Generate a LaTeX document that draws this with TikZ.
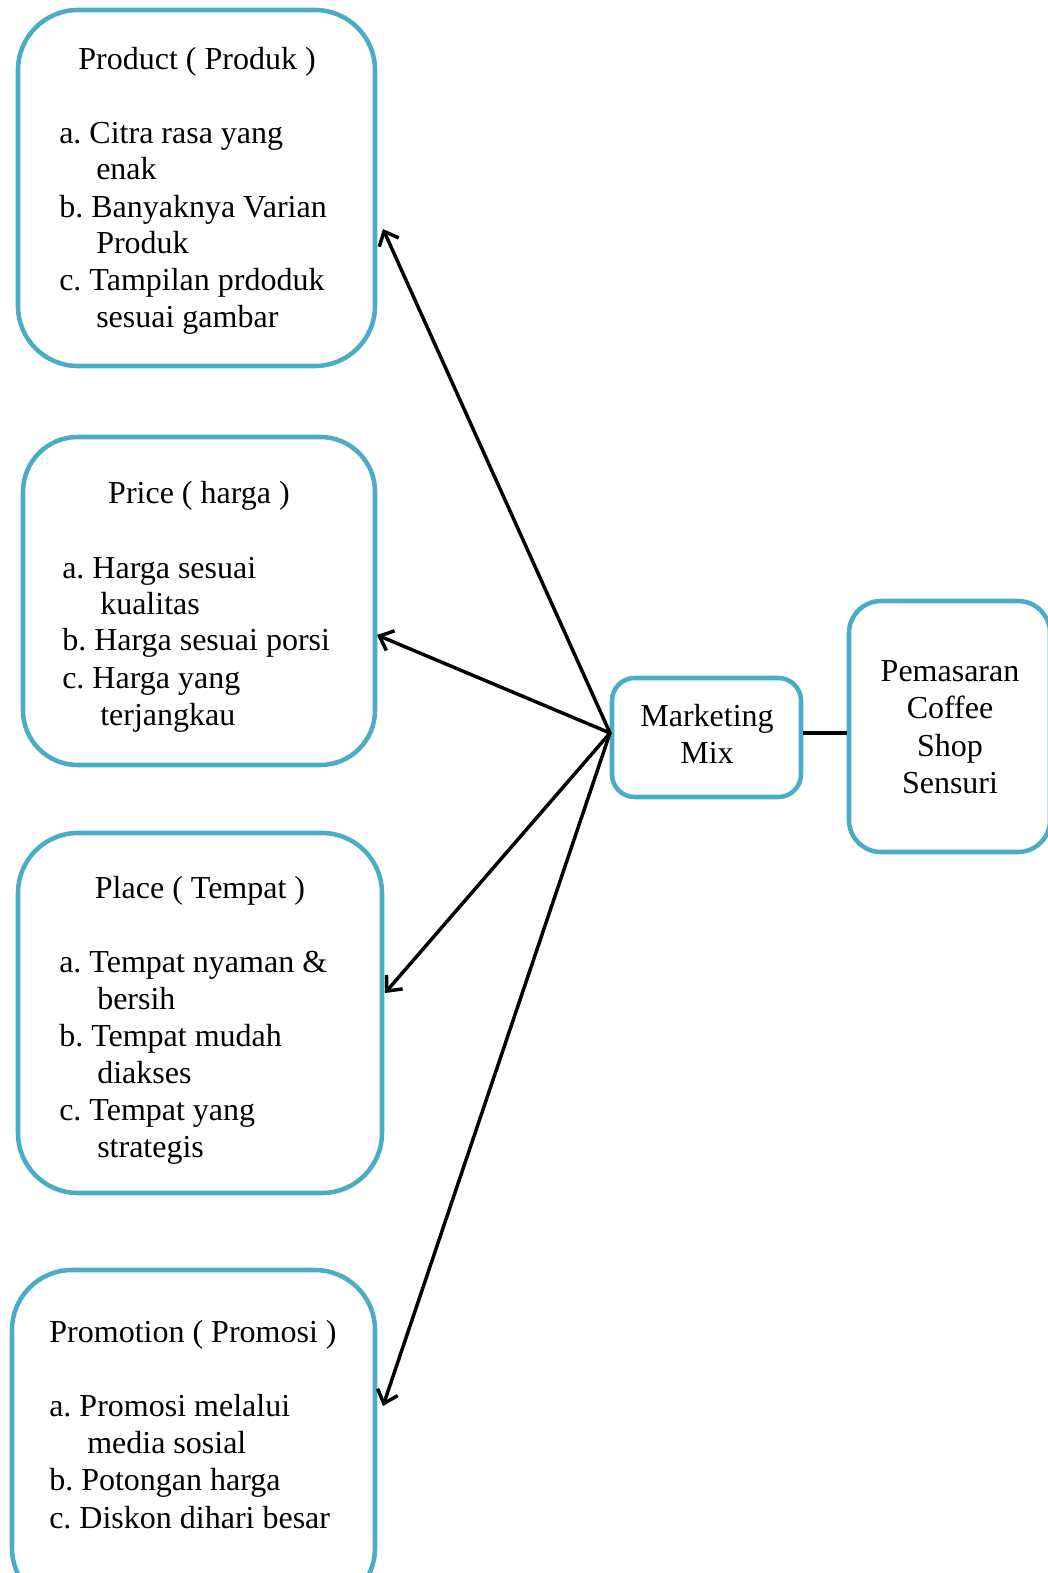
\documentclass[tikz,border=0pt]{standalone}
\usepackage{fontspec}
\setmainfont{Liberation Serif}
\usetikzlibrary{arrows.meta}
\definecolor{boxblue}{HTML}{4BACC6}
\frenchspacing
\begin{document}
\begin{tikzpicture}[x=0.75pt,y=-0.75pt,
  box/.style={draw=boxblue, line width=3.4pt, rectangle, inner sep=0pt, fill=white},
  txt/.style={inner sep=0pt, anchor=base west, font=\fontsize{24}{27.75}\selectfont},
  ttl/.style={inner sep=0pt, anchor=base, font=\fontsize{24}{27.75}\selectfont},
  arr/.style={line width=2.6pt, line cap=round, line join=round, -{Straight Barb[length=9pt, width=16pt, line width=2.6pt]}},
  conn/.style={line width=3pt}
]
\useasboundingbox (0,0) rectangle (1048,1573);

% boxes
\node[box, rounded corners=45pt, minimum width=267.75pt, minimum height=267pt] (product) at (196.5,188) {};
\node[box, rounded corners=41pt, minimum width=264pt, minimum height=246pt] (price) at (199,601) {};
\node[box, rounded corners=45pt, minimum width=273pt, minimum height=270pt] (place) at (200,1013) {};
\node[box, rounded corners=45pt, minimum width=272.25pt, minimum height=253.5pt] (promotion) at (193.5,1439) {};
\node[box, rounded corners=17pt, minimum width=141.75pt, minimum height=89.25pt] (mm) at (706.5,737.5) {};
\node[box, rounded corners=24pt, minimum width=150.75pt, minimum height=188.25pt] (pem) at (949.5,726.5) {};

% connectors
\coordinate (hub) at (610,733);
\coordinate (tipProduct) at (383,229);
\coordinate (tipPrice) at (377,635);
\coordinate (tipPlace) at (385,993);
\coordinate (tipPromotion) at (383,1406);
\draw[arr] (hub) -- (tipProduct);
\draw[arr] (hub) -- (tipPrice);
\draw[arr] (hub) -- (tipPlace);
\draw[arr] (hub) -- (tipPromotion);
\draw[conn] (mm.east |- hub) -- (pem.west |- hub);

% Product texts
\node[ttl] (t1) at (197,70) {Product ( Produk )};
\node[txt] (p1) at (59,144) {a. Citra rasa yang};
\node[txt] (p2) at (96,180) {enak};
\node[txt] (p3) at (59,217) {b. Banyaknya Varian};
\node[txt] (p4) at (96,253) {Produk};
\node[txt] (p5) at (59,290) {c. Tampilan prdoduk};
\node[txt] (p6) at (96,327) {sesuai gambar};

% Price texts
\node[ttl] (t2) at (199,503) {Price ( harga )};
\node[txt] (r1) at (62,578) {a. Harga sesuai};
\node[txt] (r2) at (100,614) {kualitas};
\node[txt] (r3) at (62,650) {b. Harga sesuai porsi};
\node[txt] (r4) at (62,688) {c. Harga yang};
\node[txt] (r5) at (100,725) {terjangkau};

% Place texts
\node[ttl] (t3) at (200,898) {Place ( Tempat )};
\node[txt] (l1) at (59,972) {a. Tempat nyaman \&};
\node[txt] (l2) at (97,1009) {bersih};
\node[txt] (l3) at (59,1046) {b. Tempat mudah};
\node[txt] (l4) at (97,1083) {diakses};
\node[txt] (l5) at (59,1120) {c. Tempat yang};
\node[txt] (l6) at (97,1157) {strategis};

% Promotion texts
\node[ttl] (t4) at (193,1342) {Promotion ( Promosi )};
\node[txt] (m1) at (49,1416) {a. Promosi melalui};
\node[txt] (m2) at (87,1453) {media sosial};
\node[txt] (m3) at (49,1490) {b. Potongan harga};
\node[txt] (m4) at (49,1528) {c. Diskon dihari besar};

% Marketing Mix
\node[ttl] (mm1) at (707,726) {Marketing};
\node[ttl] (mm2) at (707,763) {Mix};

% Pemasaran
\node[ttl] (pm1) at (950,681) {Pemasaran};
\node[ttl] (pm2) at (950,718) {Coffee};
\node[ttl] (pm3) at (950,756) {Shop};
\node[ttl] (pm4) at (950,793) {Sensuri};
\end{tikzpicture}
\end{document}
